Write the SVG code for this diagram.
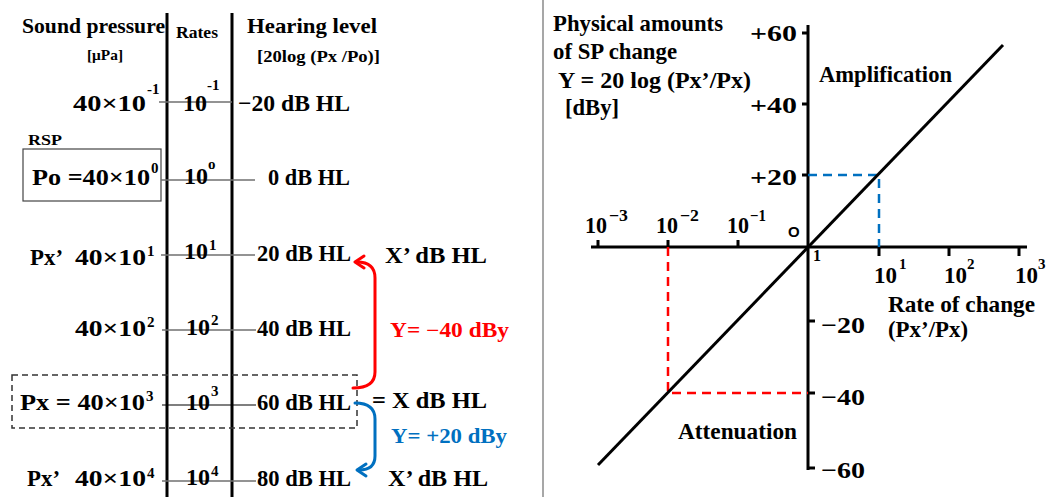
<svg xmlns="http://www.w3.org/2000/svg" width="1048" height="497" viewBox="0 0 1048 497">
<defs>
<style>
text{font-family:"Liberation Serif","Times New Roman",serif;font-weight:bold;fill:#000;}
.t22{font-size:23.5px;}
.t21{font-size:21px;}
.sup{font-size:15px;}
.ax{stroke:#000;stroke-width:3;fill:none;}
.row{stroke:#6f6f6f;stroke-width:1.5;}
.red{fill:#ff0000;}
.blue{fill:#0070c0;}
</style>
</defs>
<rect width="1048" height="497" fill="#fff"/>
<line x1="543" y1="0" x2="543" y2="497" stroke="#8a8a8a" stroke-width="1.5"/>

<g id="left-headers">
<text class="t21" x="22" y="33" textLength="143" lengthAdjust="spacingAndGlyphs">Sound pressure</text>
<text x="87" y="60" style="font-size:15px" textLength="36" lengthAdjust="spacingAndGlyphs">[μPa]</text>
<text x="176" y="38" style="font-size:17px" textLength="42" lengthAdjust="spacingAndGlyphs">Rates</text>
<text class="t21" x="247" y="33" textLength="130" lengthAdjust="spacingAndGlyphs">Hearing level</text>
<text x="257" y="62" style="font-size:16px" textLength="123" lengthAdjust="spacingAndGlyphs">[20log (Px /Po)]</text>
</g>

<g id="columns">
<line class="ax" x1="167" y1="13" x2="167" y2="497"/>
<line class="ax" x1="232" y1="13" x2="232" y2="497"/>
</g>

<g id="row-1">
<line class="row" x1="159" y1="102" x2="232" y2="102"/>
<text class="t22" x="73" y="111" textLength="73" lengthAdjust="spacingAndGlyphs">40×10</text>
<text class="sup" x="147" y="94">-1</text>
<text class="t22" x="183" y="111" textLength="24" lengthAdjust="spacingAndGlyphs">10</text>
<text class="sup" x="207" y="90">-1</text>
<text class="t22" x="238" y="111" textLength="112" lengthAdjust="spacingAndGlyphs">−20 dB HL</text>
</g>

<g id="row-2">
<text x="28" y="145" style="font-size:15px" textLength="34" lengthAdjust="spacingAndGlyphs">RSP</text>
<rect x="23" y="149" width="138" height="52" fill="none" stroke="#444" stroke-width="1.2"/>
<line class="row" x1="161" y1="180" x2="255" y2="180"/>
<text class="t22" x="32" y="185" textLength="118" lengthAdjust="spacingAndGlyphs">Po =40×10</text>
<text class="sup" x="151" y="173">0</text>
<text class="t22" x="184" y="184" textLength="24" lengthAdjust="spacingAndGlyphs">10</text>
<text class="sup" x="208" y="169">o</text>
<text class="t22" x="268" y="185" textLength="82" lengthAdjust="spacingAndGlyphs">0 dB HL</text>
</g>

<g id="row-3">
<line class="row" x1="161" y1="255" x2="255" y2="255"/>
<text class="t22" x="30" y="265" textLength="33" lengthAdjust="spacingAndGlyphs">Px’</text>
<text class="t22" x="75" y="265" textLength="71" lengthAdjust="spacingAndGlyphs">40×10</text>
<text class="sup" x="147" y="256">1</text>
<text class="t22" x="184" y="259" textLength="24" lengthAdjust="spacingAndGlyphs">10</text>
<text class="sup" x="209" y="250">1</text>
<text class="t22" x="257" y="261" textLength="94" lengthAdjust="spacingAndGlyphs">20 dB HL</text>
<text class="t22" x="385" y="263" textLength="102" lengthAdjust="spacingAndGlyphs">X’ dB HL</text>
</g>

<g id="row-4">
<line class="row" x1="162" y1="330" x2="256" y2="330"/>
<text class="t22" x="75" y="336" textLength="71" lengthAdjust="spacingAndGlyphs">40×10</text>
<text class="sup" x="147" y="327">2</text>
<text class="t22" x="186" y="335" textLength="24" lengthAdjust="spacingAndGlyphs">10</text>
<text class="sup" x="211" y="325">2</text>
<text class="t22" x="257" y="336" textLength="94" lengthAdjust="spacingAndGlyphs">40 dB HL</text>
<text class="red" x="390" y="337" style="font-size:20px" textLength="119" lengthAdjust="spacingAndGlyphs">Y= −40 dBy</text>
</g>

<g id="row-5">
<rect x="12" y="375" width="345" height="53" fill="none" stroke="#333" stroke-width="1.5" stroke-dasharray="6 4"/>
<line x1="162" y1="405" x2="256" y2="405" stroke="#000" stroke-width="1.2"/>
<text class="t22" x="20" y="410" textLength="125" lengthAdjust="spacingAndGlyphs">Px = 40×10</text>
<text class="sup" x="146" y="401">3</text>
<text class="t22" x="186" y="410" textLength="24" lengthAdjust="spacingAndGlyphs">10</text>
<text class="sup" x="211" y="396">3</text>
<text class="t22" x="257" y="410" textLength="94" lengthAdjust="spacingAndGlyphs">60 dB HL</text>
<text class="t22" x="372" y="408" textLength="115" lengthAdjust="spacingAndGlyphs">= X dB HL</text>
<text class="blue" x="391" y="443" style="font-size:20px" textLength="116" lengthAdjust="spacingAndGlyphs">Y= +20 dBy</text>
</g>

<g id="row-6">
<line class="row" x1="162" y1="481" x2="256" y2="481"/>
<text class="t22" x="27" y="486" textLength="33" lengthAdjust="spacingAndGlyphs">Px’</text>
<text class="t22" x="75" y="486" textLength="71" lengthAdjust="spacingAndGlyphs">40×10</text>
<text class="sup" x="147" y="478">4</text>
<text class="t22" x="186" y="485" textLength="24" lengthAdjust="spacingAndGlyphs">10</text>
<text class="sup" x="211" y="476">4</text>
<text class="t22" x="257" y="486" textLength="94" lengthAdjust="spacingAndGlyphs">80 dB HL</text>
<text class="t22" x="388" y="486" textLength="100" lengthAdjust="spacingAndGlyphs">X’ dB HL</text>
</g>

<g id="connectors" fill="none" stroke-width="3" stroke-linecap="round" stroke-linejoin="round">
<path d="M353 388 Q375 388 375 372 L375 278 Q375 262 357 262" stroke="#ff0000"/>
<path d="M364 256 L355 262 L364 268" stroke="#ff0000"/>
<path d="M355 403 Q375 403 375 419 L375 456 Q375 470 359 470" stroke="#0070c0"/>
<path d="M366 464 L357 470 L366 476" stroke="#0070c0"/>
</g>

<g id="chart-title">
<text class="t22" x="553" y="31" textLength="170" lengthAdjust="spacingAndGlyphs">Physical amounts</text>
<text class="t22" x="553" y="59" textLength="124" lengthAdjust="spacingAndGlyphs">of SP change</text>
<text class="t22" x="558" y="88" textLength="193" lengthAdjust="spacingAndGlyphs">Y = 20 log (Px’/Px)</text>
<text class="t22" x="565" y="115" textLength="54" lengthAdjust="spacingAndGlyphs">[dBy]</text>
</g>

<g id="chart-axes">
<line class="ax" x1="591" y1="247" x2="1027" y2="247"/>
<line class="ax" x1="808" y1="25" x2="808" y2="470"/>
<path class="ax" d="M598 240V247M668 240V247M738 240V247M879 247V256M949 247V256M1019 247V256"/>
<path class="ax" d="M802 33H808M802 104H808M802 175H808M808 321H815M808 393H815M808 468H815"/>
</g>

<g id="chart-guides" fill="none" stroke-width="2.5" stroke-dasharray="9 6">
<path d="M808 175H879V247" stroke="#0070c0"/>
<path d="M668 247V393H808" stroke="#ff0000"/>
</g>

<g id="chart-line">
<line class="ax" x1="598" y1="465" x2="1003" y2="45"/>
</g>

<g id="chart-labels">
<text class="t22" x="750" y="41" textLength="47" lengthAdjust="spacingAndGlyphs">+60</text>
<text class="t22" x="750" y="113" textLength="47" lengthAdjust="spacingAndGlyphs">+40</text>
<text class="t22" x="750" y="185" textLength="47" lengthAdjust="spacingAndGlyphs">+20</text>
<text class="t22" x="821" y="333" textLength="44" lengthAdjust="spacingAndGlyphs">−20</text>
<text class="t22" x="821" y="405" textLength="44" lengthAdjust="spacingAndGlyphs">−40</text>
<text class="t22" x="821" y="478" textLength="44" lengthAdjust="spacingAndGlyphs">−60</text>

<text class="t22" x="585" y="233" textLength="22" lengthAdjust="spacingAndGlyphs">10</text>
<text x="609" y="221" style="font-size:16px" textLength="19" lengthAdjust="spacingAndGlyphs">−3</text>
<text class="t22" x="656" y="233" textLength="22" lengthAdjust="spacingAndGlyphs">10</text>
<text x="680" y="221" style="font-size:16px" textLength="19" lengthAdjust="spacingAndGlyphs">−2</text>
<text class="t22" x="727" y="233" textLength="22" lengthAdjust="spacingAndGlyphs">10</text>
<text x="750" y="221" style="font-size:16px" textLength="16" lengthAdjust="spacingAndGlyphs">−1</text>
<text x="788" y="237" style="font-size:15px;font-family:'Liberation Sans',Arial,sans-serif">O</text>
<text x="813" y="261" style="font-size:16px">1</text>
<text class="t22" x="874" y="283" textLength="23" lengthAdjust="spacingAndGlyphs">10</text>
<text x="899" y="269" style="font-size:15px">1</text>
<text class="t22" x="944" y="283" textLength="23" lengthAdjust="spacingAndGlyphs">10</text>
<text x="967" y="269" style="font-size:15px">2</text>
<text class="t22" x="1015" y="283" textLength="23" lengthAdjust="spacingAndGlyphs">10</text>
<text x="1038" y="269" style="font-size:15px">3</text>

<text class="t22" x="888" y="312" textLength="147" lengthAdjust="spacingAndGlyphs">Rate of change</text>
<text class="t22" x="888" y="337" textLength="80" lengthAdjust="spacingAndGlyphs">(Px’/Px)</text>
<text class="t22" x="819" y="82" textLength="133" lengthAdjust="spacingAndGlyphs">Amplification</text>
<text class="t22" x="678" y="439" textLength="119" lengthAdjust="spacingAndGlyphs">Attenuation</text>
</g>
</svg>
